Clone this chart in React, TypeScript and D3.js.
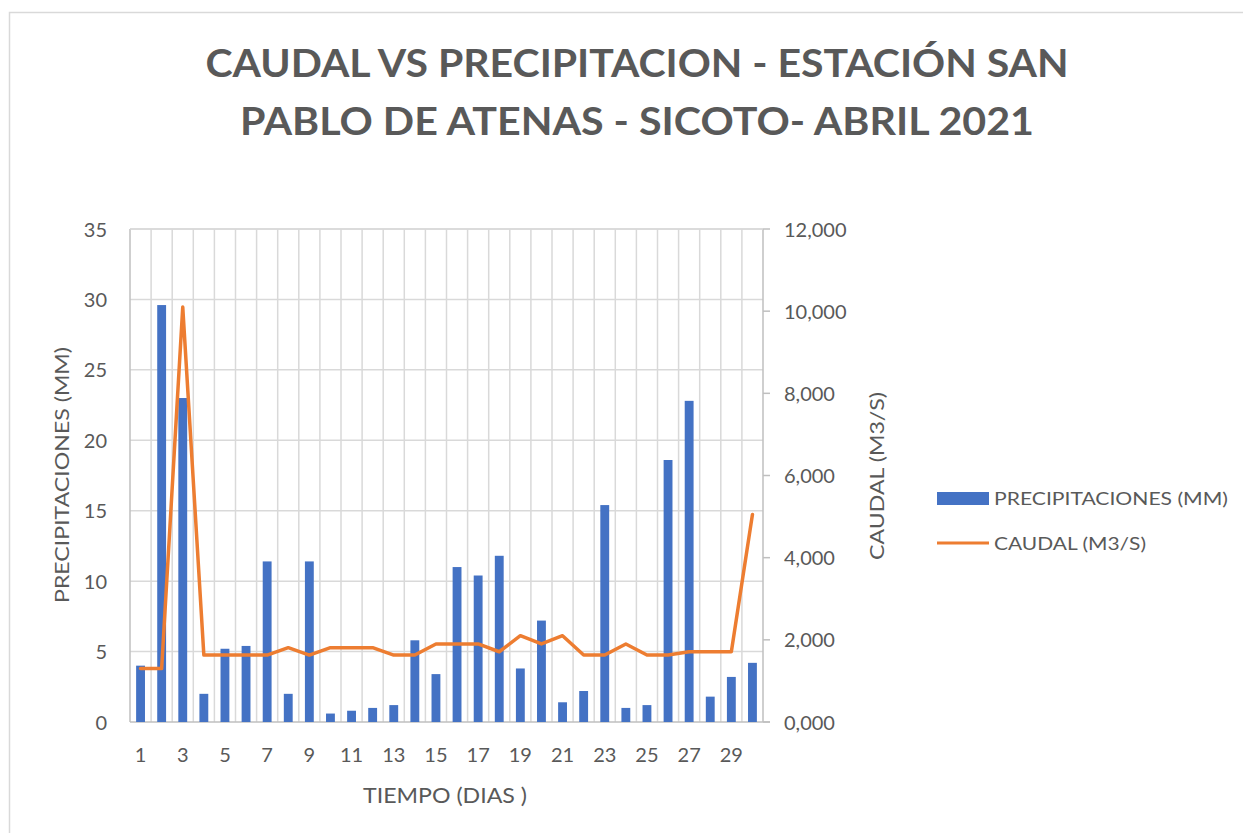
import React from "react";
import * as d3 from "d3";

const days = Array.from({ length: 30 }, (_, i) => String(i + 1));
const precipitaciones = [4.0, 29.6, 23.0, 2.0, 5.2, 5.4, 11.4, 2.0, 11.4, 0.6, 0.8, 1.0, 1.2, 5.8, 3.4, 11.0, 10.4, 11.8, 3.8, 7.2, 1.4, 2.2, 15.4, 1.0, 1.2, 18.6, 22.8, 1.8, 3.2, 4.2];
const caudal = [1300, 1300, 10100, 1630, 1630, 1630, 1630, 1810, 1630, 1810, 1810, 1810, 1630, 1630, 1900, 1900, 1900, 1710, 2100, 1900, 2100, 1630, 1630, 1900, 1630, 1630, 1710, 1710, 1710, 5050];
const leftTicks = [0, 5, 10, 15, 20, 25, 30, 35];
const rightTicks = [0, 2000, 4000, 6000, 8000, 10000, 12000];
const rightTickLabels = ["0,000", "2,000", "4,000", "6,000", "8,000", "10,000", "12,000"];
const xTickLabels = ["1", "3", "5", "7", "9", "11", "13", "15", "17", "19", "21", "23", "25", "27", "29"];
const titleLines = ["CAUDAL VS PRECIPITACION - ESTACIÓN SAN", "PABLO DE ATENAS - SICOTO- ABRIL 2021"];

export default function App() {
  const W = 1243, H = 833;
  const left = 130, right = 763, top = 229, bottom = 722;
  const x = d3.scaleBand<string>().domain(days).range([left, right]).padding(0);
  const yL = d3.scaleLinear().domain([0, 35]).range([bottom, top]);
  const yR = d3.scaleLinear().domain([0, 12000]).range([bottom, top]);
  const bw = x.bandwidth() * 0.42;
  const line = d3.line<number>()
    .x((_, i) => (x(days[i]) as number) + x.bandwidth() / 2)
    .y((d) => yR(d));
  const font = "Lato, 'Open Sans', sans-serif";
  const txt = "#595959";
  const grid = "#d9d9d9";
  const boundaries = days.map((d) => x(d) as number).concat([right]);

  return (
    <svg width={W} height={H} style={{ position: "absolute", left: 0, top: 0, background: "#fff" }} fontFamily={font}>
      <rect x={9.5} y={12.5} width={W + 20} height={H + 20} fill="#fff" stroke={grid} strokeWidth={1.5} />
      {titleLines.map((t, i) => (
        <text key={i} x={637} y={77 + i * 58} textAnchor="middle" fontSize={38} fontWeight={700} fill={txt}
          textLength={i === 0 ? 863 : 794} lengthAdjust="spacingAndGlyphs">{t}</text>
      ))}
      {/* gridlines */}
      {leftTicks.filter((t) => t > 0).map((t) => (
        <line key={"h" + t} x1={left} x2={right} y1={yL(t)} y2={yL(t)} stroke={grid} strokeWidth={1.5} />
      ))}
      {boundaries.slice(1, -1).map((b, i) => (
        <line key={"v" + i} x1={b} x2={b} y1={top} y2={bottom} stroke={grid} strokeWidth={1.5} />
      ))}
      {/* axes */}
      <line x1={left} x2={left} y1={top} y2={bottom} stroke="#bfbfbf" strokeWidth={1.5} />
      <line x1={right} x2={right} y1={top} y2={bottom} stroke="#bfbfbf" strokeWidth={1.5} />
      <line x1={left} x2={right + 7} y1={bottom} y2={bottom} stroke="#bfbfbf" strokeWidth={1.5} />
      <line x1={left} x2={right} y1={top} y2={top} stroke={grid} strokeWidth={1.5} />
      {rightTicks.map((t) => (
        <line key={"rt" + t} x1={right} x2={right + 7} y1={yR(t)} y2={yR(t)} stroke="#bfbfbf" strokeWidth={1.5} />
      ))}
      {/* bars */}
      {precipitaciones.map((v, i) => (
        <rect key={"b" + i} x={(x(days[i]) as number) + (x.bandwidth() - bw) / 2} y={yL(v)} width={bw}
          height={bottom - yL(v)} fill="#4472C4" />
      ))}
      {/* line */}
      <path d={line(caudal) || ""} fill="none" stroke="#ED7D31" strokeWidth={3.5} strokeLinejoin="round" strokeLinecap="round" />
      {/* left tick labels */}
      {leftTicks.map((t) => (
        <text key={"lt" + t} x={107} y={yL(t) + 7.5} textAnchor="end" fontSize={20} fill={txt}>{t}</text>
      ))}
      {/* right tick labels */}
      {rightTicks.map((t, i) => (
        <text key={"rl" + t} x={784} y={yR(t) + 7.5} textAnchor="start" fontSize={20} fill={txt}>{rightTickLabels[i]}</text>
      ))}
      {/* x tick labels */}
      {xTickLabels.map((l) => (
        <text key={"xt" + l} x={(x(l) as number) + x.bandwidth() / 2} y={762} textAnchor="middle" fontSize={20} fill={txt}>{l}</text>
      ))}
      {/* axis titles */}
      <text x={445} y={803} textAnchor="middle" fontSize={21} fill={txt} textLength={164} lengthAdjust="spacingAndGlyphs">TIEMPO (DIAS )</text>
      <text transform={`translate(69,${475}) rotate(-90)`} textAnchor="middle" fontSize={20} fill={txt}
        textLength={256} lengthAdjust="spacingAndGlyphs">PRECIPITACIONES (MM)</text>
      <text transform={`translate(884,${476}) rotate(-90)`} textAnchor="middle" fontSize={20} fill={txt}
        textLength={168} lengthAdjust="spacingAndGlyphs">CAUDAL (M3/S)</text>
      {/* legend */}
      <rect x={937} y={492} width={52} height={13} fill="#4472C4" />
      <text x={994} y={505} fontSize={18} fill={txt} textLength={234} lengthAdjust="spacingAndGlyphs">PRECIPITACIONES (MM)</text>
      <line x1={937} x2={989} y1={543} y2={543} stroke="#ED7D31" strokeWidth={3} />
      <text x={994} y={550} fontSize={18} fill={txt} textLength={152} lengthAdjust="spacingAndGlyphs">CAUDAL (M3/S)</text>
    </svg>
  );
}
